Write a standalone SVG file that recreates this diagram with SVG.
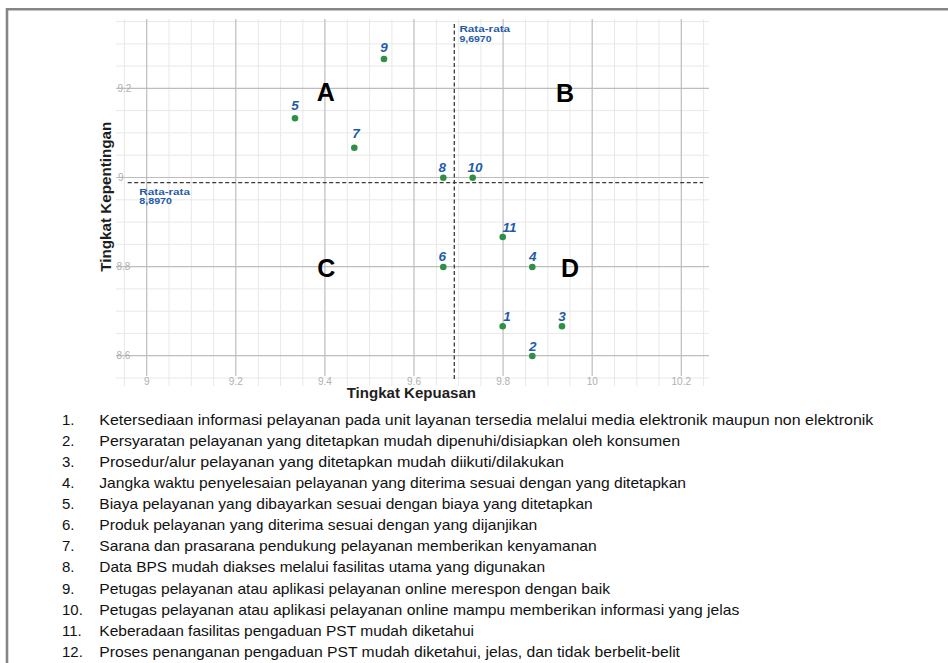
<svg xmlns="http://www.w3.org/2000/svg" width="948" height="663" viewBox="0 0 948 663">
<style>
.minor{stroke:#e8e8e8;stroke-width:1}
.major{stroke:#bdbdbd;stroke-width:1.2}
.dash{stroke:#3a3a3a;stroke-width:1.3;stroke-dasharray:4 2.5;fill:none}
.tick{font-family:"Liberation Sans",Arial,sans-serif;font-size:10px;fill:#b0b0b0}
.pt{fill:#2f8f46}
.plab{font-family:"Liberation Sans",Arial,sans-serif;font-size:13.5px;font-weight:bold;font-style:italic;fill:#1f5ca8;text-anchor:middle}
.avg{font-family:"Liberation Sans",Arial,sans-serif;font-size:8.6px;font-weight:bold;fill:#1f5ca8}
.quad{font-family:"Liberation Sans",Arial,sans-serif;font-size:25px;font-weight:bold;fill:#000;text-anchor:middle}
.axis{font-family:"Liberation Sans",Arial,sans-serif;font-size:14px;font-weight:bold;fill:#1e1e1e}
.item{font-family:"Liberation Sans",Arial,sans-serif;font-size:15px;fill:#111}
</style>
<rect width="948" height="663" fill="#fff"/>
<g id="frame" stroke="#858585" stroke-width="2.6" fill="none">
<line x1="7" y1="9.3" x2="948" y2="9.3"/>
<line x1="7" y1="8" x2="7" y2="663"/>
</g>
<g id="grid">
<g class="minor">
<line x1="116" y1="21.6" x2="709" y2="21.6"/>
<line x1="116" y1="43.9" x2="709" y2="43.9"/>
<line x1="116" y1="66.1" x2="709" y2="66.1"/>
<line x1="116" y1="110.6" x2="709" y2="110.6"/>
<line x1="116" y1="132.9" x2="709" y2="132.9"/>
<line x1="116" y1="155.2" x2="709" y2="155.2"/>
<line x1="116" y1="199.8" x2="709" y2="199.8"/>
<line x1="116" y1="222.1" x2="709" y2="222.1"/>
<line x1="116" y1="244.3" x2="709" y2="244.3"/>
<line x1="116" y1="288.9" x2="709" y2="288.9"/>
<line x1="116" y1="311.2" x2="709" y2="311.2"/>
<line x1="116" y1="333.4" x2="709" y2="333.4"/>
<line x1="116" y1="378" x2="709" y2="378"/>
<line x1="124.4" y1="19" x2="124.4" y2="386"/>
<line x1="169" y1="19" x2="169" y2="386"/>
<line x1="191.3" y1="19" x2="191.3" y2="386"/>
<line x1="213.7" y1="19" x2="213.7" y2="386"/>
<line x1="258.3" y1="19" x2="258.3" y2="386"/>
<line x1="280.6" y1="19" x2="280.6" y2="386"/>
<line x1="302.8" y1="19" x2="302.8" y2="386"/>
<line x1="347.3" y1="19" x2="347.3" y2="386"/>
<line x1="369.6" y1="19" x2="369.6" y2="386"/>
<line x1="391.9" y1="19" x2="391.9" y2="386"/>
<line x1="436.4" y1="19" x2="436.4" y2="386"/>
<line x1="458.7" y1="19" x2="458.7" y2="386"/>
<line x1="480.9" y1="19" x2="480.9" y2="386"/>
<line x1="525.5" y1="19" x2="525.5" y2="386"/>
<line x1="547.8" y1="19" x2="547.8" y2="386"/>
<line x1="570" y1="19" x2="570" y2="386"/>
<line x1="614.5" y1="19" x2="614.5" y2="386"/>
<line x1="636.8" y1="19" x2="636.8" y2="386"/>
<line x1="659" y1="19" x2="659" y2="386"/>
<line x1="703.6" y1="19" x2="703.6" y2="386"/>
</g>
<g class="major">
<line x1="116" y1="88.4" x2="709" y2="88.4"/>
<line x1="116" y1="177.5" x2="709" y2="177.5"/>
<line x1="116" y1="266.6" x2="709" y2="266.6"/>
<line x1="116" y1="355.7" x2="709" y2="355.7"/>
<line x1="146.7" y1="19" x2="146.7" y2="376"/>
<line x1="235.8" y1="19" x2="235.8" y2="376"/>
<line x1="324.9" y1="19" x2="324.9" y2="376"/>
<line x1="414" y1="19" x2="414" y2="376"/>
<line x1="503.1" y1="19" x2="503.1" y2="376"/>
<line x1="592.2" y1="19" x2="592.2" y2="376"/>
<line x1="681.3" y1="19" x2="681.3" y2="376"/>
</g>
<g class="tick">
<text x="117.5" y="91.8">9.2</text>
<text x="118" y="181">9</text>
<text x="116.5" y="270.2">8.8</text>
<text x="116.5" y="359.3">8.6</text>
<g text-anchor="middle">
<text x="146.7" y="384.5">9</text>
<text x="235.8" y="384.5">9.2</text>
<text x="324.9" y="384.5">9.4</text>
<text x="414" y="384.5">9.6</text>
<text x="503.1" y="384.5">9.8</text>
<text x="592.2" y="384.5">10</text>
<text x="681.3" y="384.5">10.2</text>
</g>
</g>
</g>
<g id="connectors">
<line class="dash" x1="127.7" y1="182.7" x2="703" y2="182.7"/>
<line class="dash" x1="454.3" y1="24" x2="454.3" y2="380"/>
</g>
<g id="avg-labels">
<text class="avg" x="459.4" y="32.3" textLength="50.7" lengthAdjust="spacingAndGlyphs">Rata-rata</text>
<text class="avg" x="459.4" y="41.9" textLength="32.2" lengthAdjust="spacingAndGlyphs">9,6970</text>
<text class="avg" x="139.3" y="194.6" textLength="50.7" lengthAdjust="spacingAndGlyphs">Rata-rata</text>
<text class="avg" x="139.3" y="204.2" textLength="32.7" lengthAdjust="spacingAndGlyphs">8,8970</text>
</g>
<g id="quadrants">
<text id="qA" class="quad" x="325.7" y="100.8">A</text>
<text id="qB" class="quad" x="565" y="101.8">B</text>
<text id="qC" class="quad" x="326.3" y="276.7">C</text>
<text id="qD" class="quad" x="570" y="277.3">D</text>
</g>
<g id="points">
<g id="p1"><circle class="pt" cx="502.7" cy="326.3" r="3.3"/><text class="plab" x="507" y="321">1</text></g>
<g id="p2"><circle class="pt" cx="532.3" cy="356" r="3.3"/><text class="plab" x="532.7" y="350.7">2</text></g>
<g id="p3"><circle class="pt" cx="562" cy="326.3" r="3.3"/><text class="plab" x="562" y="321">3</text></g>
<g id="p4"><circle class="pt" cx="532.3" cy="267" r="3.3"/><text class="plab" x="532.7" y="261">4</text></g>
<g id="p5"><circle class="pt" cx="295" cy="118.3" r="3.3"/><text class="plab" x="295" y="110">5</text></g>
<g id="p6"><circle class="pt" cx="443.3" cy="267" r="3.3"/><text class="plab" x="442.3" y="261">6</text></g>
<g id="p7"><circle class="pt" cx="354.3" cy="147.7" r="3.3"/><text class="plab" x="356" y="138">7</text></g>
<g id="p8"><circle class="pt" cx="443.3" cy="177.7" r="3.3"/><text class="plab" x="442.3" y="171.7">8</text></g>
<g id="p9"><circle class="pt" cx="384" cy="59" r="3.3"/><text class="plab" x="384" y="51.7">9</text></g>
<g id="p10"><circle class="pt" cx="472.7" cy="177.7" r="3.3"/><text class="plab" x="475" y="171.7">10</text></g>
<g id="p11"><circle class="pt" cx="502.7" cy="237" r="3.3"/><text class="plab" x="509.5" y="231.7">11</text></g>
</g>
<g id="axis-titles">
<text class="axis" x="346.7" y="398.3" textLength="129.3" lengthAdjust="spacingAndGlyphs">Tingkat Kepuasan</text>
<text class="axis" transform="translate(110.5 271.7) rotate(-90)" x="0" y="0" textLength="150" lengthAdjust="spacingAndGlyphs">Tingkat Kepentingan</text>
</g>
<g id="legend" class="item">
<text x="62" y="425">1.</text><text x="99.3" y="425" textLength="774" lengthAdjust="spacingAndGlyphs">Ketersediaan informasi pelayanan pada unit layanan tersedia melalui media elektronik maupun non elektronik</text>
<text x="62" y="446.1">2.</text><text x="99.3" y="446.1" textLength="580.7" lengthAdjust="spacingAndGlyphs">Persyaratan pelayanan yang ditetapkan mudah dipenuhi/disiapkan oleh konsumen</text>
<text x="62" y="467.1">3.</text><text x="99.3" y="467.1" textLength="464.7" lengthAdjust="spacingAndGlyphs">Prosedur/alur pelayanan yang ditetapkan mudah diikuti/dilakukan</text>
<text x="62" y="488.2">4.</text><text x="99.3" y="488.2" textLength="586.7" lengthAdjust="spacingAndGlyphs">Jangka waktu penyelesaian pelayanan yang diterima sesuai dengan yang ditetapkan</text>
<text x="62" y="509.2">5.</text><text x="99.3" y="509.2" textLength="493.4" lengthAdjust="spacingAndGlyphs">Biaya pelayanan yang dibayarkan sesuai dengan biaya yang ditetapkan</text>
<text x="62" y="530.3">6.</text><text x="99.3" y="530.3" textLength="438" lengthAdjust="spacingAndGlyphs">Produk pelayanan yang diterima sesuai dengan yang dijanjikan</text>
<text x="62" y="551.4">7.</text><text x="99.3" y="551.4" textLength="497.4" lengthAdjust="spacingAndGlyphs">Sarana dan prasarana pendukung pelayanan memberikan kenyamanan</text>
<text x="62" y="572.4">8.</text><text x="99.3" y="572.4" textLength="445.7" lengthAdjust="spacingAndGlyphs">Data BPS mudah diakses melalui fasilitas utama yang digunakan</text>
<text x="62" y="593.5">9.</text><text x="99.3" y="593.5" textLength="510.7" lengthAdjust="spacingAndGlyphs">Petugas pelayanan atau aplikasi pelayanan online merespon dengan baik</text>
<text x="62" y="614.5">10.</text><text x="99.3" y="614.5" textLength="640" lengthAdjust="spacingAndGlyphs">Petugas pelayanan atau aplikasi pelayanan online mampu memberikan informasi yang jelas</text>
<text x="62" y="635.6">11.</text><text x="99.3" y="635.6" textLength="374.7" lengthAdjust="spacingAndGlyphs">Keberadaan fasilitas pengaduan PST mudah diketahui</text>
<text x="62" y="656.7">12.</text><text x="99.3" y="656.7" textLength="580.7" lengthAdjust="spacingAndGlyphs">Proses penanganan pengaduan PST mudah diketahui, jelas, dan tidak berbelit-belit</text>
</g>
</svg>
